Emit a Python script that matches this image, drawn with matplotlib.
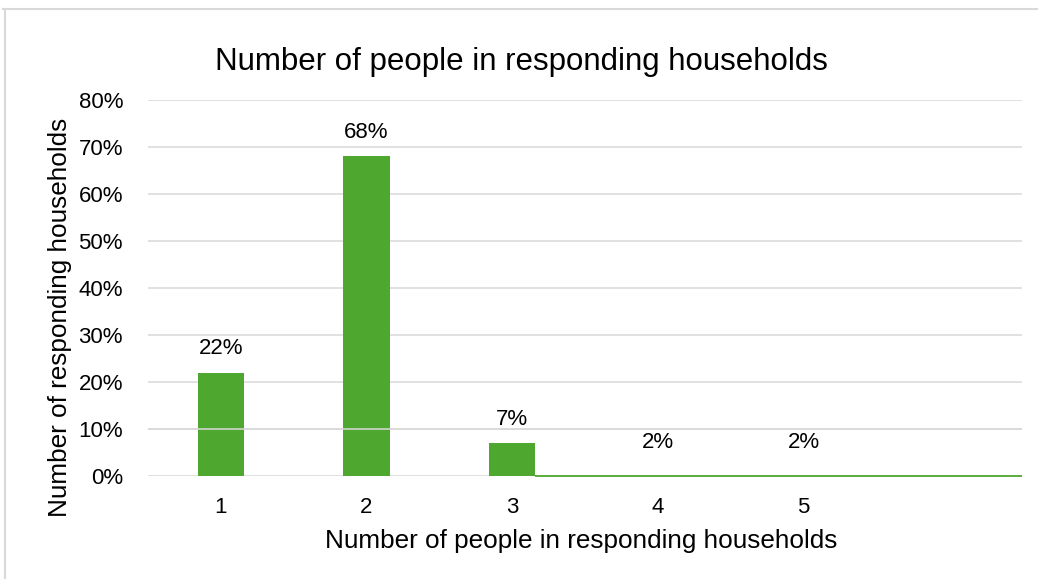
import matplotlib
matplotlib.use("Agg")
import matplotlib.pyplot as plt
from matplotlib.lines import Line2D
import numpy as np

plt.rcParams['font.family'] = ['Liberation Sans', 'DejaVu Sans']

# Household size categories and share of responding households (%)
categories = ['1', '2', '3', '4', '5', '']
shares = [22, 68, 7, 2, 2, 0]
visible = [True, True, True, False, False, False]
y_ticks = [0, 10, 20, 30, 40, 50, 60, 70, 80]
y_tick_labels = [f'{v}%' for v in y_ticks]

title = 'Number of people in responding households'
x_label = 'Number of people in responding households'
y_label = 'Number of responding households'

green = '#4EA72E'
grid_col = '#D9D9D9'

W, H = 1038, 579
fig = plt.figure(figsize=(W / 100, H / 100), dpi=100)
ax = fig.add_axes([148 / W, 1 - 476 / H, (1022 - 148) / W, (476 - 100) / H])

x = np.arange(len(categories))
bar_w = 0.32
bars = ax.bar(x, shares, width=bar_w, color=[green if v else 'none' for v in visible],
              zorder=2, linewidth=0)

ax.set_xlim(-0.5, len(categories) - 0.5)
ax.set_ylim(0, 80)
ax.set_yticks(y_ticks)
ax.set_yticklabels(y_tick_labels)
ax.set_xticks(x)
ax.set_xticklabels(categories)
ax.tick_params(axis='both', length=0, labelsize=16, colors='black')
ax.tick_params(axis='y', pad=18)
ax.tick_params(axis='x', pad=15)

for s in ax.spines.values():
    s.set_visible(False)

ax.set_axisbelow(True)
ax.yaxis.grid(True, color=grid_col, linewidth=1.1)
ax.xaxis.grid(False)
# 10% gridline rendered on top of the bars
ax.axhline(10, color=grid_col, linewidth=1.1, zorder=3)

# Green baseline trace to the right of the third bar
x_start = x[2] + bar_w / 2
ax.plot([x_start, len(categories) - 0.5], [0, 0], color=green, linewidth=1.3,
        zorder=4, solid_capstyle='butt', clip_on=False)

# Value labels
for xi, v, lab in zip(x, shares, categories):
    if lab == '':
        continue
    ax.annotate(f'{v}%', xy=(xi, v), xytext=(0, 17), textcoords='offset points',
                ha='center', va='center', fontsize=16, color='black')

fig.text(521.5 / W, 1 - 62 / H, title, ha='center', va='center', fontsize=22.5)
fig.text(581.5 / W, 1 - 541 / H, x_label, ha='center', va='center', fontsize=18.8)
fig.text(60 / W, 1 - 317 / H, y_label, ha='center', va='center', fontsize=18.8,
         rotation=90)

# Light frame around the chart area
fig.add_artist(Line2D([3 / W, 1.0], [1 - 9 / H, 1 - 9 / H], color=grid_col,
                      linewidth=1.5, transform=fig.transFigure))
fig.add_artist(Line2D([5 / W, 5 / W], [0, 1 - 9 / H], color=grid_col,
                      linewidth=1.5, transform=fig.transFigure))

fig.savefig('out.png', dpi=100, facecolor='white')
